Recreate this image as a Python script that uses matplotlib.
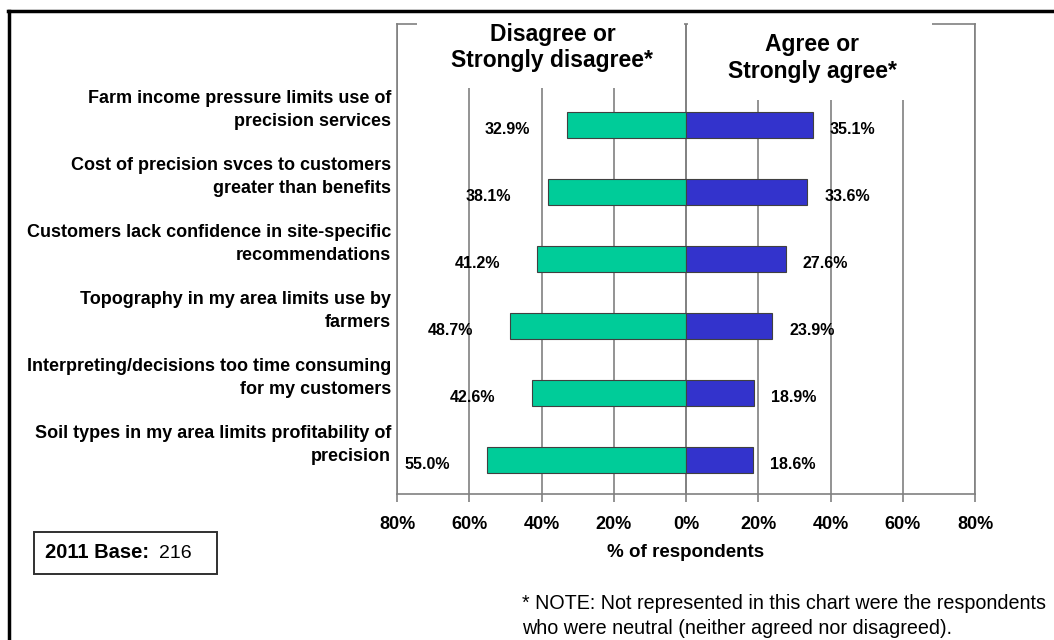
import matplotlib
matplotlib.use("Agg")
import matplotlib.pyplot as plt
from matplotlib.lines import Line2D
from matplotlib.patches import Rectangle

plt.rcParams['font.family'] = ['Liberation Sans', 'DejaVu Sans']

categories = [
    'Farm income pressure limits use of\nprecision services',
    'Cost of precision svces to customers\ngreater than benefits',
    'Customers lack confidence in site-specific\nrecommendations',
    'Topography in my area limits use by\nfarmers',
    'Interpreting/decisions too time consuming\nfor my customers',
    'Soil types in my area limits profitability of\nprecision',
]
disagree = [32.9, 38.1, 41.2, 48.7, 42.6, 55.0]
agree = [35.1, 33.6, 27.6, 23.9, 18.9, 18.6]
ticks = [-80, -60, -40, -20, 0, 20, 40, 60, 80]
tick_labels = ['80%', '60%', '40%', '20%', '0%', '20%', '40%', '60%', '80%']

green = '#00CC99'
blue = '#3333CC'
grid = '#808080'

fig = plt.figure(figsize=(10.54, 6.40), dpi=100)
ax = fig.add_axes([0.3767, 0.228, 0.5484, 0.7344])

y = list(range(len(categories)))
ax.barh(y, [-v for v in disagree], height=0.39, color=green, edgecolor='#404040', linewidth=0.8, zorder=4)
ax.barh(y, agree, height=0.39, color=blue, edgecolor='#404040', linewidth=0.8, zorder=4)

ax.set_xlim(-80, 80)
ax.set_ylim(5.507, -1.507)
ax.set_xticks(ticks)
ax.set_xticklabels(tick_labels, fontsize=13, fontweight='bold')
ax.set_yticks([])
ax.xaxis.grid(True, color=grid, linewidth=1.2, zorder=1)
ax.tick_params(axis='x', length=6, color=grid, width=1.2, pad=10)
for s in ax.spines.values():
    s.set_color(grid)
    s.set_linewidth(1.2)

# white boxes behind the two headers (they hide grid and top spine)
ax.add_patch(Rectangle((-74.5, -1.6), 74.0, 1.05, facecolor='white', edgecolor='none', zorder=2.8, clip_on=False))
ax.add_patch(Rectangle((0.5, -1.6), 67.6, 1.23, facecolor='white', edgecolor='none', zorder=2.8, clip_on=False))
ax.axvline(0, color=grid, linewidth=1.2, zorder=3)

for i in y:
    ax.text(-disagree[i] - 16.5, i + 0.06, f'{disagree[i]:.1f}%', ha='center', va='center',
            fontsize=11.5, fontweight='bold', zorder=5)
    ax.text(agree[i] + 11, i + 0.06, f'{agree[i]:.1f}%', ha='center', va='center',
            fontsize=11.5, fontweight='bold', zorder=5)
    ax.text(-0.01, i - 0.22, categories[i], transform=ax.get_yaxis_transform(),
            ha='right', va='center', multialignment='right', fontsize=13,
            fontweight='bold', linespacing=1.45, clip_on=False)

ax.text(-37, -1.155, 'Disagree or\nStrongly disagree*', ha='center', va='center',
        fontsize=16.5, fontweight='bold', linespacing=1.2, zorder=5)
ax.text(35, -1.0, 'Agree or\nStrongly agree*', ha='center', va='center',
        fontsize=16.5, fontweight='bold', linespacing=1.2, zorder=5)

ax.set_xlabel('% of respondents', fontsize=13.5, fontweight='bold', labelpad=8)

# base box
fig.add_artist(Rectangle((34 / 1054, 1 - 574 / 640), 183 / 1054, 42 / 640,
                         transform=fig.transFigure, facecolor='white',
                         edgecolor='#303030', linewidth=1.4))
fig.text(45 / 1054, 1 - 558 / 640, '2011 Base:', fontsize=14.5, fontweight='bold', va='baseline')
fig.text(159 / 1054, 1 - 558 / 640, '216', fontsize=14, va='baseline')

fig.text(522 / 1054, 1 - 616 / 640,
         '* NOTE: Not represented in this chart were the respondents\nwho were neutral (neither agreed nor disagreed).',
         fontsize=14.2, va='center', ha='left', linespacing=1.4)

# outer frame lines
fig.add_artist(Line2D([8 / 1054, 1], [1 - 11 / 640, 1 - 11 / 640], color='black', linewidth=2.5,
                      transform=fig.transFigure))
fig.add_artist(Line2D([9 / 1054, 9 / 1054], [0, 1 - 11 / 640], color='black', linewidth=2.5,
                      transform=fig.transFigure))

fig.savefig('out.png', dpi=100)
